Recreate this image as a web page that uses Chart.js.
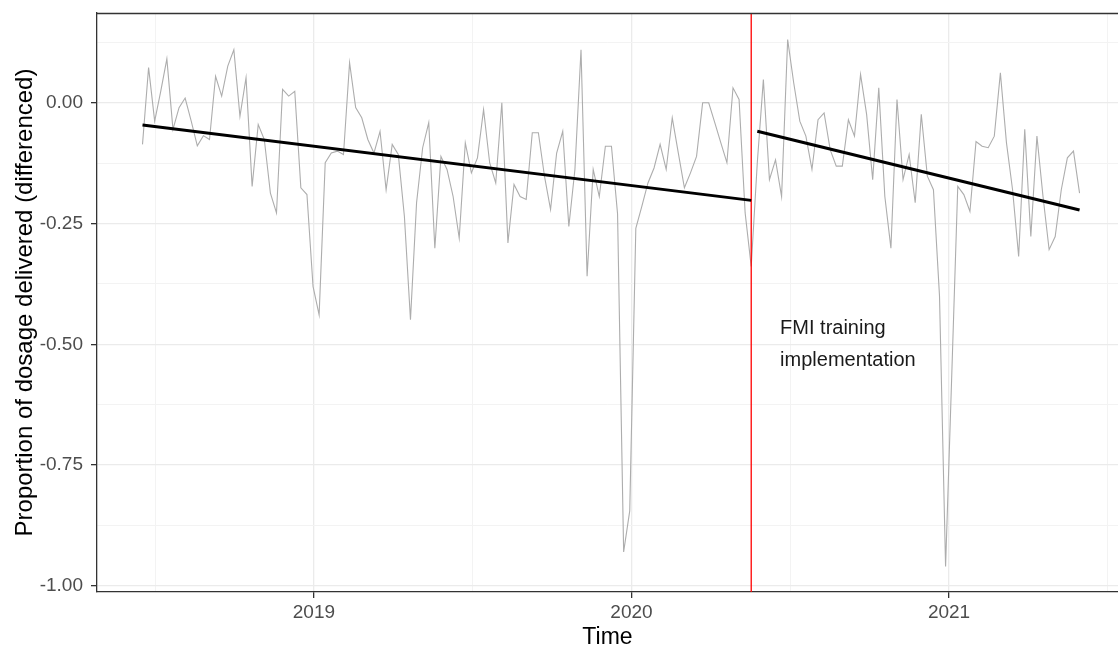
<!DOCTYPE html>
<html>
<head>
<meta charset="utf-8">
<script src="https://cdn.jsdelivr.net/npm/chart.js@4.4.1/dist/chart.umd.min.js"></script>
<style>
  html, body { margin: 0; padding: 0; background: #fff; }
  #wrap { width: 1118px; height: 651px; position: relative; }
</style>
</head>
<body>
<div id="wrap"><canvas id="dosageChart" width="1118" height="651"></canvas></div>
<script>
// weekly differenced proportion of dosage delivered, first week 2018-06-18
const firstWeek = '2018-06-18';
const interventionDate = '2020-05-18';
const interventionWeek = 100;

const weeklyValues = [
  -0.086, 0.073, -0.038, 0.024, 0.091, -0.055, -0.010, 0.010, -0.038, -0.089,
  -0.068, -0.076, 0.055, 0.014, 0.076, 0.110, -0.028, 0.052, -0.173, -0.045,
  -0.076, -0.187, -0.228, 0.028, 0.014, 0.024, -0.176, -0.190, -0.380, -0.439,
  -0.124, -0.104, -0.100, -0.107, 0.083, -0.010, -0.031, -0.076, -0.104, -0.059,
  -0.180, -0.086, -0.107, -0.235, -0.449, -0.207, -0.093, -0.041, -0.301, -0.111,
  -0.138, -0.194, -0.280, -0.083, -0.145, -0.114, -0.014, -0.124, -0.166, 0.000,
  -0.290, -0.169, -0.194, -0.200, -0.062, -0.062, -0.152, -0.221, -0.104, -0.059,
  -0.256, -0.138, 0.110, -0.359, -0.138, -0.194, -0.090, -0.090, -0.230, -0.930,
  -0.845, -0.260, -0.214, -0.166, -0.135, -0.086, -0.138, -0.031, -0.104, -0.176,
  -0.145, -0.111, 0.000, 0.000, -0.041, -0.083, -0.124, 0.031, 0.007, -0.228,
  -0.339, -0.124, 0.048, -0.159, -0.118, -0.194, 0.131, 0.041, -0.038, -0.069,
  -0.138, -0.035, -0.021, -0.097, -0.131, -0.131, -0.035, -0.069, 0.059, -0.024,
  -0.159, 0.031, -0.194, -0.301, 0.007, -0.159, -0.107, -0.207, -0.024, -0.152,
  -0.180, -0.400, -0.960, -0.570, -0.173, -0.190, -0.225, -0.080, -0.090, -0.093,
  -0.069, 0.062, -0.083, -0.180, -0.318, -0.055, -0.277, -0.069, -0.194, -0.304,
  -0.277, -0.180, -0.114, -0.100, -0.187
];

// fitted segments (start, end) before and after the training
const trendBefore = [-0.046, -0.202];
const trendAfter = [-0.059, -0.222];

const xTickYears = [2019, 2020, 2021];
const xTickLabels = ['2019', '2020', '2021'];
const xMinorYears = [2018.5, 2019.5, 2020.5, 2021.5];
const yTickValues = [-1, -0.75, -0.5, -0.25, 0];
const yTickLabels = ['-1.00', '-0.75', '-0.50', '-0.25', '0.00'];
const yMinorValues = [-0.875, -0.625, -0.375, -0.125, 0.125];

const annotationLines = ['FMI training', 'implementation'];

function toYear(d) {
    const y = d.getUTCFullYear();
    const s = Date.UTC(y, 0, 1);
    const e = Date.UTC(y + 1, 0, 1);
    return y + (d.getTime() - s) / (e - s);
}

const startMs = Date.parse(firstWeek + 'T00:00:00Z');
const weekYears = weeklyValues.map((v, i) => toYear(new Date(startMs + i * 7 * 86400000)));
const interventionYear = toYear(new Date(interventionDate + 'T00:00:00Z'));
const lastWeek = weeklyValues.length - 1;

const seriesPoints = weeklyValues.map((v, i) => ({ x: weekYears[i], y: v }));
const beforePoints = [
    { x: weekYears[0], y: trendBefore[0] },
    { x: weekYears[interventionWeek], y: trendBefore[1] }
];
const afterPoints = [
    { x: weekYears[interventionWeek + 1], y: trendAfter[0] },
    { x: weekYears[lastWeek], y: trendAfter[1] }
];

const FONT = "'Liberation Sans', Arial, sans-serif";

const panelPlugin = {
    id: 'panelExtras',
    afterDraw: function(chart) {
        const ctx = chart.ctx;
        const area = chart.chartArea;
        const xs = chart.scales.x;
        const ys = chart.scales.y;
        ctx.save();
        // top border of the panel
        ctx.strokeStyle = '#333333';
        ctx.lineWidth = 1.3;
        ctx.beginPath();
        ctx.moveTo(area.left, area.top + 0.5);
        ctx.lineTo(area.right, area.top + 0.5);
        ctx.stroke();
        // annotation text
        ctx.fillStyle = '#1a1a1a';
        ctx.font = '20px ' + FONT;
        ctx.textAlign = 'left';
        ctx.textBaseline = 'middle';
        const tx = xs.getPixelForValue(2020.468);
        const ty = ys.getPixelForValue(-0.5);
        ctx.fillText(annotationLines[0], tx, ty - 16);
        ctx.fillText(annotationLines[1], tx, ty + 16);
        ctx.restore();
    }
};

const ctx = document.getElementById('dosageChart');
new Chart(ctx, {
    type: 'line',
    data: {
        datasets: [
            {
                label: 'trend before',
                data: beforePoints,
                borderColor: '#000000',
                borderWidth: 3,
                pointRadius: 0,
                order: 1
            },
            {
                label: 'trend after',
                data: afterPoints,
                borderColor: '#000000',
                borderWidth: 3,
                pointRadius: 0,
                order: 1
            },
            {
                label: 'intervention',
                data: [{ x: interventionYear, y: -2 }, { x: interventionYear, y: 2 }],
                borderColor: '#ff0000',
                borderWidth: 1.3,
                pointRadius: 0,
                order: 2
            },
            {
                label: 'differenced proportion',
                data: seriesPoints,
                borderColor: '#adadad',
                borderWidth: 1.1,
                pointRadius: 0,
                tension: 0,
                order: 3
            }
        ]
    },
    options: {
        responsive: false,
        animation: false,
        layout: { padding: { left: 0, right: 0, top: 13, bottom: 0 } },
        plugins: {
            legend: { display: false },
            tooltip: { enabled: false }
        },
        scales: {
            x: {
                type: 'linear',
                min: 2018.317,
                max: 2021.532,
                afterBuildTicks: function(scale) {
                    const vals = xTickYears.concat(xMinorYears).sort((a, b) => a - b);
                    scale.ticks = vals.map(v => ({ value: v }));
                },
                afterFit: function(scale) {
                    scale.height = 59;
                    scale.paddingLeft = 0;
                    scale.paddingRight = 0;
                },
                ticks: {
                    autoSkip: false,
                    maxRotation: 0,
                    padding: 3,
                    color: '#4d4d4d',
                    font: { family: FONT, size: 19 },
                    callback: function(value) {
                        const i = xTickYears.indexOf(value);
                        return i >= 0 ? xTickLabels[i] : '';
                    }
                },
                grid: {
                    color: function(c) { return xTickYears.indexOf(c.tick.value) >= 0 ? '#ebebeb' : '#f3f3f3'; },
                    lineWidth: function(c) { return xTickYears.indexOf(c.tick.value) >= 0 ? 1.3 : 1; },
                    tickColor: function(c) { return xTickYears.indexOf(c.tick.value) >= 0 ? '#333333' : 'rgba(0,0,0,0)'; },
                    tickLength: 6,
                    tickWidth: 1.3
                },
                border: { display: true, color: '#333333', width: 1.3 },
                title: {
                    display: true,
                    text: 'Time',
                    color: '#000000',
                    font: { family: FONT, size: 23 },
                    padding: { top: 0, bottom: 0 }
                }
            },
            y: {
                type: 'linear',
                min: -1.013,
                max: 0.186,
                afterBuildTicks: function(scale) {
                    const vals = yTickValues.concat(yMinorValues).sort((a, b) => a - b);
                    scale.ticks = vals.map(v => ({ value: v }));
                },
                afterFit: function(scale) {
                    scale.width = 97;
                    scale.paddingTop = 0;
                    scale.paddingBottom = 0;
                },
                ticks: {
                    padding: 8,
                    color: '#4d4d4d',
                    font: { family: FONT, size: 19 },
                    callback: function(value) {
                        const i = yTickValues.indexOf(value);
                        return i >= 0 ? yTickLabels[i] : '';
                    }
                },
                grid: {
                    color: function(c) { return yTickValues.indexOf(c.tick.value) >= 0 ? '#ebebeb' : '#f3f3f3'; },
                    lineWidth: function(c) { return yTickValues.indexOf(c.tick.value) >= 0 ? 1.3 : 1; },
                    tickColor: function(c) { return yTickValues.indexOf(c.tick.value) >= 0 ? '#333333' : 'rgba(0,0,0,0)'; },
                    tickLength: 6,
                    tickWidth: 1.3
                },
                border: { display: true, color: '#333333', width: 1.3 },
                title: {
                    display: true,
                    text: 'Proportion of dosage delivered (differenced)',
                    color: '#000000',
                    font: { family: FONT, size: 24 },
                    padding: { top: 11, bottom: 0 }
                }
            }
        }
    },
    plugins: [panelPlugin]
});
</script>
</body>
</html>
